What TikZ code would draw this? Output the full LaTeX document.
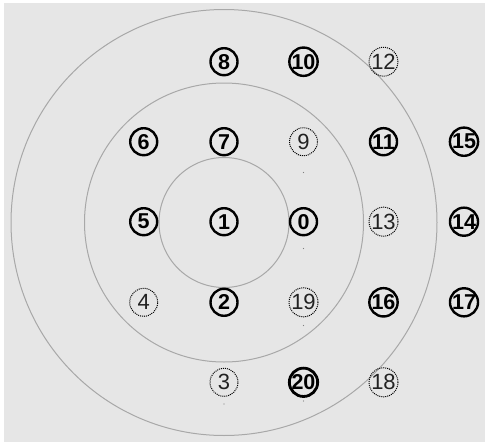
\documentclass[tikz,border=0pt]{standalone}
\usepackage{fontspec}
\setmainfont{Liberation Sans}
\definecolor{bg}{HTML}{E6E6E6}
\definecolor{ring}{HTML}{A8A8A8}
\definecolor{dtext}{HTML}{222222}
\tikzset{
  solidnode/.style={circle, draw=black, line width=2.4pt, minimum size=27pt, inner sep=0pt, font=\fontsize{21.5}{21.5}\selectfont\bfseries, text=black},
  dotnode/.style={circle, draw=black, densely dotted, line width=1pt, minimum size=28pt, inner sep=0pt, font=\fontsize{22}{22}\selectfont, text=dtext},
  ringline/.style={draw=ring, line width=1pt},
  tick/.style={fill=gray, circle, inner sep=0pt, minimum size=1.4pt}
}
\begin{document}
\begin{tikzpicture}[x=1pt, y=-1pt]
\useasboundingbox (0,0) rectangle (485,442);
\fill[white] (0,0) rectangle (485,442);
\fill[bg] (4,3) rectangle (485,442);
% rings
\coordinate (c) at (224,222.5);
\draw[ringline] (c) circle (65);
\draw[ringline] (c) circle (139.5);
\draw[ringline] (c) circle (213);
% nodes
\node[solidnode] (n8)  at (224,61.7) {8};
\node[solidnode] (n10) at (303.5,61.7) {10};
\node[dotnode]   (n12) at (383.5,61.7) {12};
\node[solidnode] (n6)  at (143.7,141.7) {6};
\node[solidnode] (n7)  at (224,141.7) {7};
\node[dotnode]   (n9)  at (303.5,141.7) {9};
\node[solidnode] (n11) at (383.5,141.7) {11};
\node[solidnode] (n15) at (464,141.7) {15};
\node[solidnode] (n5)  at (143.7,221.7) {5};
\node[solidnode] (n1)  at (224,221.7) {1};
\node[solidnode] (n0)  at (303.5,221.7) {0};
\node[dotnode]   (n13) at (383.5,221.7) {13};
\node[solidnode] (n14) at (464,221.7) {14};
\node[dotnode]   (n4)  at (143.7,302.3) {4};
\node[solidnode] (n2)  at (224,302.3) {2};
\node[dotnode]   (n19) at (303.5,302.3) {19};
\node[solidnode] (n16) at (383.5,302.3) {16};
\node[solidnode] (n17) at (464,302.3) {17};
\node[dotnode]   (n3)  at (224,382.3) {3};
\node[solidnode, line width=2.8pt] (n20) at (303.5,382.3) {20};
\node[dotnode]   (n18) at (383.5,382.3) {18};
% tiny marks
\node[tick] (t9)  at (303.5,172.5) {};
\node[tick] (t0)  at (303.5,248.5) {};
\node[tick] (t19) at (303.5,325.5) {};
\node[tick] (t3)  at (224,404) {};
\node[tick] (t20) at (303.5,401) {};
\end{tikzpicture}
\end{document}
